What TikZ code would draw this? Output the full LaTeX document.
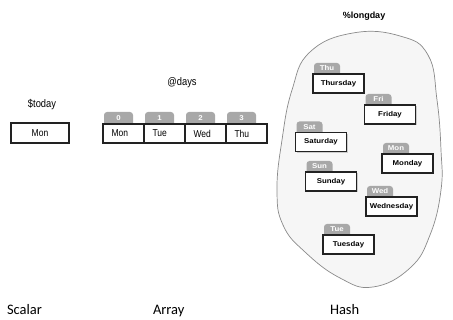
\documentclass[tikz,border=0pt]{standalone}
\usepackage{fontspec}
\setsansfont{Liberation Sans}
\newfontfamily\narrowfont[FakeStretch=0.85]{Liberation Sans}
\newfontfamily\widefont[FakeStretch=1.12]{Liberation Sans}
\newfontfamily\captionfont{Carlito}
\usepackage{tikz}
\usetikzlibrary{positioning,shadows,backgrounds}
\definecolor{tabgray}{HTML}{A8A8A8}
\definecolor{blobfill}{HTML}{F6F6F6}
\definecolor{blobline}{HTML}{8A8A8A}
\definecolor{boxline}{HTML}{222222}

\begin{document}
\begin{tikzpicture}[x=1pt, y=-1pt,
  every node/.style={inner sep=0pt, outer sep=0pt},
  varname/.style={font=\narrowfont\fontsize{11}{12}\selectfont},
  hashname/.style={font=\sffamily\bfseries\fontsize{9}{10}\selectfont},
  caption/.style={anchor=base west, font=\captionfont\fontsize{14.5}{16}\selectfont},
  scalarbox/.style={draw=boxline, line width=1.8pt, fill=white, minimum width=58pt, minimum height=20pt, font=\narrowfont\fontsize{10}{11}\selectfont},
  cellbox/.style={draw=boxline, line width=1.1pt, fill=white, minimum height=19pt, text width=24pt, inner xsep=8.5pt, align=left, font=\narrowfont\fontsize{10}{11}\selectfont, drop shadow={shadow xshift=1.3pt, shadow yshift=-1.3pt, opacity=0.35}},
  idxtab/.style={fill=tabgray, rounded corners=3pt, minimum width=29pt, minimum height=16pt, text height=5pt, text depth=4pt, text=white, font=\widefont\bfseries\fontsize{7}{8}\selectfont},
  valbox/.style={draw=boxline, line width=1.2pt, fill=white, minimum width=51pt, minimum height=19pt, font=\widefont\bfseries\fontsize{7}{8}\selectfont, drop shadow={shadow xshift=1.3pt, shadow yshift=-1.3pt, opacity=0.35}},
  keytab/.style={fill=tabgray, rounded corners=3pt, minimum width=26pt, minimum height=15pt, text height=5pt, text depth=4pt, text=white, font=\widefont\bfseries\fontsize{7}{8}\selectfont}]

\useasboundingbox (0,0) rectangle (453,320);

% Hash blob
\begin{scope}[on background layer]
\draw[blobline, fill=blobfill, line width=0.7pt] plot[smooth cycle, tension=0.75] coordinates {(353,33) (400,36) (428,55) (437,100) (441,150) (441,190) (430,235) (410,268) (373,287) (340,278) (305,252) (283,225) (277,190) (282,140) (292,90) (310,52)};
\end{scope}

% Scalar
\node[varname] (todaylabel) at (42,105) {\$today};
\node[scalarbox] (today) at (40,133) {Mon};

% Array
\node[varname] (dayslabel) at (182,83) {@days};
\node[cellbox] (cell0) at (123.5,133.5) {Mon};
\node[cellbox, right=0pt of cell0] (cell1) {Tue};
\node[cellbox, right=0pt of cell1] (cell2) {Wed};
\node[cellbox, right=0pt of cell2] (cell3) {Thu};

\begin{scope}[on background layer]
\node[idxtab, above right=-4pt and 1pt of cell0.north west] (idx0) {0};
\node[idxtab, above right=-4pt and 1pt of cell1.north west] (idx1) {1};
\node[idxtab, above right=-4pt and 1pt of cell2.north west] (idx2) {2};
\node[idxtab, above right=-4pt and 1pt of cell3.north west] (idx3) {3};
\end{scope}

% Hash
\node[hashname] (longdaylabel) at (364,16) {\%longday};
\node[valbox] (thursday) at (338.5,83.5) {Thursday};
\node[valbox] (friday) at (390,114.5) {Friday};
\node[valbox] (saturday) at (321,142) {Saturday};
\node[valbox] (monday) at (407.5,163.5) {Monday};
\node[valbox] (sunday) at (331,181.5) {Sunday};
\node[valbox] (wednesday) at (391.5,206.5) {Wednesday};
\node[valbox] (tuesday) at (348.5,244.5) {Tuesday};

\begin{scope}[on background layer]
\node[keytab, above right=-4pt and 1pt of thursday.north west] (thu) {Thu};
\node[keytab, above right=-4pt and 1pt of friday.north west] (fri) {Fri};
\node[keytab, above right=-4pt and 1pt of saturday.north west] (sat) {Sat};
\node[keytab, above right=-4pt and 1pt of monday.north west] (mon) {Mon};
\node[keytab, above right=-4pt and 1pt of sunday.north west] (sun) {Sun};
\node[keytab, above right=-4pt and 1pt of wednesday.north west] (wed) {Wed};
\node[keytab, above right=-4pt and 1pt of tuesday.north west] (tue) {Tue};
\end{scope}

% Captions
\node[caption] (scalarcap) at (7,315) {Scalar};
\node[caption] (arraycap) at (153,315) {Array};
\node[caption] (hashcap) at (330,315) {Hash};

\end{tikzpicture}
\end{document}
